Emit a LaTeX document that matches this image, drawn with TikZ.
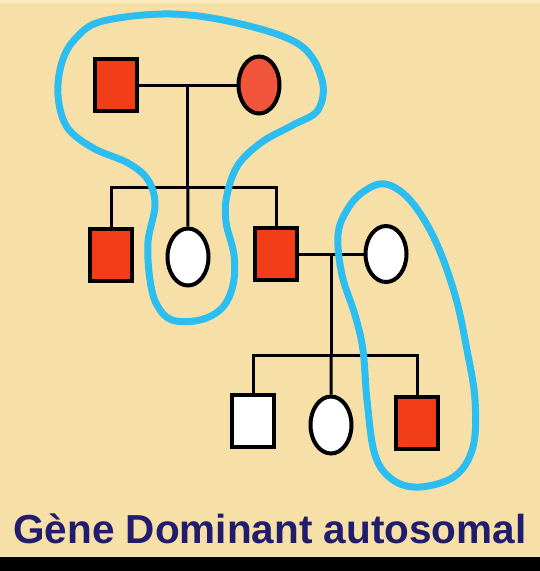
\documentclass[tikz,border=0pt]{standalone}
\usepackage{fontspec}
\setmainfont{Liberation Sans}
\usepackage{tikz}
\usetikzlibrary{shapes.geometric}
\definecolor{paper}{RGB}{246,224,168}
\definecolor{papertop}{RGB}{250,234,190}
\definecolor{sickred}{RGB}{242,62,24}
\definecolor{sickpink}{RGB}{240,84,58}
\definecolor{marker}{RGB}{44,190,240}
\definecolor{titleblue}{RGB}{34,28,110}

\begin{document}
\begin{tikzpicture}[x=1pt,y=-1pt,
  male/.style={draw,line width=4pt,rectangle,minimum width=42pt,minimum height=52pt,inner sep=0pt},
  female/.style={draw,line width=4pt,ellipse,minimum width=41pt,minimum height=57pt,inner sep=0pt},
  sick/.style={fill=sickred},
  well/.style={fill=white},
  link/.style={line width=3pt},
  loop/.style={draw=marker,line width=7pt,line cap=round,line join=round}]
\useasboundingbox (0,0) rectangle (540,571);
\fill[paper] (0,0) rectangle (540,571);
\fill[papertop] (0,0) rectangle (540,3);
\fill[black] (0,557) rectangle (540,571);
% generation I
\node[male,sick] (dad) at (116,85) {};
\node[female,fill=sickpink] (mum) at (259,85) {};
% generation II
\node[male,sick] (son1) at (111,255) {};
\node[female,well] (dau1) at (188,257) {};
\node[male,sick] (son2) at (276,254) {};
\node[female,well,minimum height=56pt] (wife) at (386,254) {};
% generation III
\node[male,well] (kid1) at (253,421) {};
\node[female,well] (kid2) at (331,425) {};
\node[male,sick] (kid3) at (417,423) {};
% links
\draw[link] (dad) -- coordinate[midway] (m1) (mum);
\draw[link] (m1) -- ++(0,102) coordinate (s1);
\draw[link] (son1.north) |- (s1) -| (son2.north);
\draw[link] (s1) -- (dau1.north);
\draw[link] (son2) -- coordinate[midway] (m2) (wife);
\draw[link] (m2) -- ++(0,101) coordinate (s2);
\draw[link] (kid1.north) |- (s2) -| (kid3.north);
\draw[link] (s2) -- (kid2.north);
% hand drawn loops
\draw[loop] plot[smooth cycle,tension=0.6] coordinates {(103,21) (172,14) (241,24) (300,45) (322,80) (318,110) (293,125) (262,142) (238,165) (227,195) (226,222) (234,255) (233,285) (222,308) (200,320) (172,320) (157,305) (150,280) (148,242) (155,205) (148,180) (128,163) (93,148) (67,127) (58,95) (62,62) (76,38)};
\draw[loop] plot[smooth cycle,tension=0.6] coordinates {(385,184) (410,200) (435,240) (455,295) (467,350) (475,400) (473,447) (455,476) (420,487) (393,480) (375,455) (367,400) (363,350) (355,315) (342,275) (338,235) (347,210) (363,192)};
\node[text=titleblue,font=\bfseries\fontsize{40.5}{48}\selectfont,anchor=base] (title) at (270,543) {Gène Dominant autosomal};
\end{tikzpicture}
\end{document}
